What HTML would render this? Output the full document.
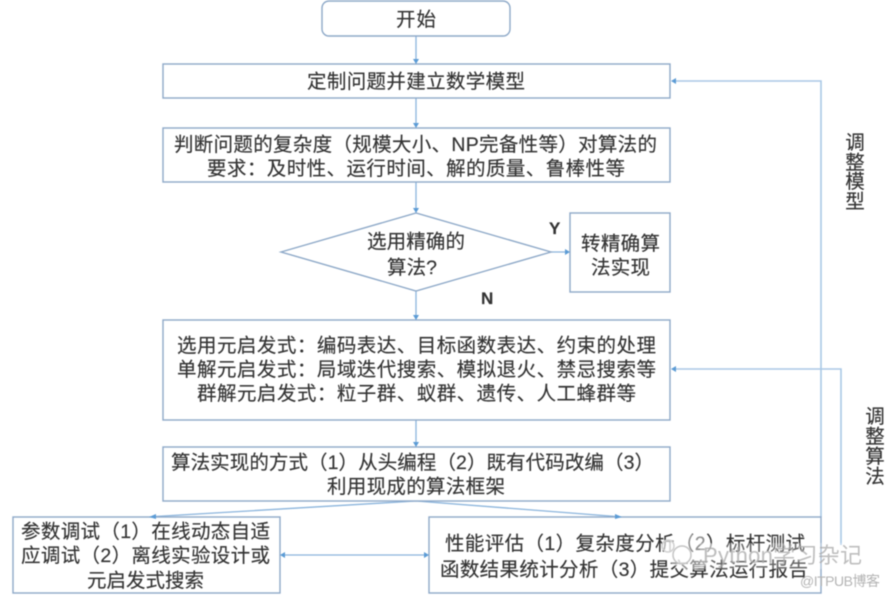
<!DOCTYPE html>
<html lang="zh">
<head>
<meta charset="utf-8">
<style>
html,body{margin:0;padding:0;background:#fff;width:890px;height:596px;overflow:hidden}
svg{display:block;filter:blur(0.45px)}
text{font-family:"Liberation Sans","Noto Sans CJK SC",sans-serif;font-size:19.5px;fill:#333;stroke:#333;stroke-width:.15}
.b{fill:#fff;stroke:#8ea9c8;stroke-width:1.4}
.l{fill:none;stroke:#8ab4dc;stroke-width:1.3}
.r{fill:none;stroke:#a9c8e6;stroke-width:1.6}
.a{fill:#5b9bd5;stroke:none}
.w{fill:#a8a8a8;stroke:none;font-size:22px;opacity:.75}
</style>
</head>
<body>
<svg width="890" height="596" viewBox="0 0 890 596" xmlns="http://www.w3.org/2000/svg">
<!-- connectors -->
<path class="l" d="M416 36V60M416 98V124M416 182V209M416 291V316M416 420V443"/>
<path class="l" d="M416 501L155 516.500M416 501L616 516.500"/>
<path class="l" d="M551 252H566M285 555H424"/>
<path class="r" d="M821 517V81H676M841 545V369H676"/>
<!-- nodes -->
<rect class="b" x="322" y="1" width="188" height="35" rx="7"/>
<rect class="b" x="163" y="64" width="507" height="34"/>
<rect class="b" x="163" y="128" width="507" height="54"/>
<polygon class="b" points="281,252 416,213 551,252 416,291"/>
<rect class="b" x="570" y="213" width="100" height="79"/>
<rect class="b" x="163" y="320" width="507" height="100"/>
<rect class="b" x="163" y="447" width="507" height="54"/>
<rect class="b" x="13" y="517" width="267" height="76"/>
<rect class="b" x="429" y="517" width="392" height="76"/>
<!-- arrowheads -->
<path class="a" d="M413 59h6l-3 5zM413 123h6l-3 5zM413 208h6l-3 5zM413 315h6l-3 5zM413 442h6l-3 5z"/>
<path class="a" d="M565 249v6l5-3zM424 552v6l5-3zM285 552v6l-5-3zM676 78v6l-5-3zM676 366v6l-5-3z"/>
<path class="a" d="M149 517l7-3v5zM622 517l-7-3v5z"/>
<!-- labels -->
<text x="396" y="26" textLength="40" lengthAdjust="spacing">开始</text>
<text x="307" y="88" textLength="218" lengthAdjust="spacing">定制问题并建立数学模型</text>
<text x="174" y="151" textLength="483" lengthAdjust="spacing">判断问题的复杂度（规模大小、NP完备性等）对算法的</text>
<text x="207" y="175" textLength="418" lengthAdjust="spacing">要求：及时性、运行时间、解的质量、鲁棒性等</text>
<text x="367" y="248" textLength="98" lengthAdjust="spacing">选用精确的</text>
<text x="387" y="274" textLength="50" lengthAdjust="spacing">算法?</text>
<text x="581" y="250" textLength="79" lengthAdjust="spacing">转精确算</text>
<text x="591" y="274" textLength="59" lengthAdjust="spacing">法实现</text>
<text x="549" y="234" style="font-size:17px;font-weight:bold">Y</text>
<text x="481" y="304" style="font-size:17px;font-weight:bold">N</text>
<text x="177" y="352" textLength="479" lengthAdjust="spacing">选用元启发式：编码表达、目标函数表达、约束的处理</text>
<text x="177" y="376" textLength="479" lengthAdjust="spacing">单解元启发式：局域迭代搜索、模拟退火、禁忌搜索等</text>
<text x="197" y="400" textLength="439" lengthAdjust="spacing">群解元启发式：粒子群、蚁群、遗传、人工蜂群等</text>
<text x="171" y="469" textLength="483" lengthAdjust="spacing">算法实现的方式（1）从头编程（2）既有代码改编（3）</text>
<text x="327" y="493" textLength="178" lengthAdjust="spacing">利用现成的算法框架</text>
<text x="21" y="538" textLength="249" lengthAdjust="spacing">参数调试（1）在线动态自适</text>
<text x="21" y="562" textLength="249" lengthAdjust="spacing">应调试（2）离线实验设计或</text>
<text x="87" y="587" textLength="117" lengthAdjust="spacing">元启发式搜索</text>
<text x="445" y="550" textLength="360" lengthAdjust="spacing">性能评估（1）复杂度分析（2）标杆测试</text>
<text x="440" y="576" textLength="368" lengthAdjust="spacing">函数结果统计分析（3）提交算法运行报告</text>
<g text-anchor="middle">
<text x="855" y="149">调</text><text x="855" y="169">整</text><text x="855" y="188">模</text><text x="855" y="208">型</text>
<text x="875" y="423">调</text><text x="875" y="443">整</text><text x="875" y="463">算</text><text x="875" y="483">法</text>
</g>
<!-- watermark -->
<ellipse cx="690" cy="552" rx="24" ry="18" fill="#fff" opacity=".45"/>
<rect x="700" y="543" width="165" height="26" fill="#fff" opacity=".25"/>
<circle cx="682" cy="555" r="9" fill="#fff" fill-opacity=".6" stroke="#c4c4c4" stroke-width="1.5"/>
<circle cx="668" cy="546" r="6" fill="#fff" fill-opacity=".6" stroke="#d0d0d0" stroke-width="1.500"/>
<text class="w" x="703" y="563" textLength="159" lengthAdjust="spacing">Python学习杂记</text>
<text x="800" y="586" textLength="80" lengthAdjust="spacing" style="font-size:14px;fill:#b4b4b4;stroke:none">@ITPUB博客</text>
</svg>
</body>
</html>
